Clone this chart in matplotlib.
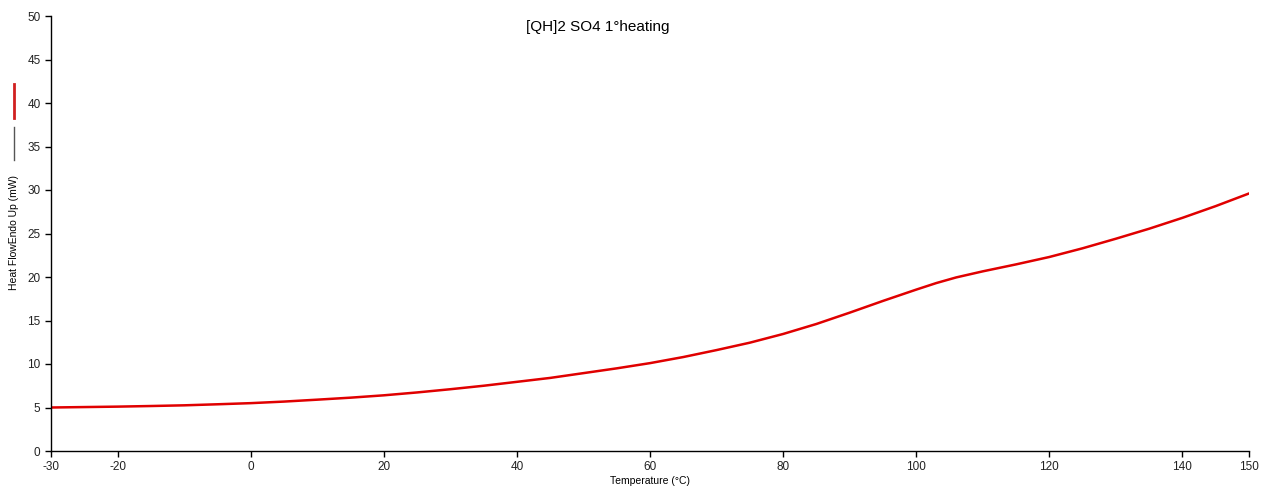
import matplotlib
matplotlib.use("Agg")
import matplotlib.pyplot as plt
from matplotlib.lines import Line2D

# DSC trace (every 5 °C)
temperature = [-30, -25, -20, -15, -10, -5, 0, 5, 10, 15, 20, 25, 30, 35,
               40, 45, 50, 55, 60, 65, 70, 75, 80, 85, 90, 95, 100, 103,
               106, 110, 115, 120, 125, 130, 135, 140, 145, 150]
heat_flow = [5.0, 5.05, 5.1, 5.17, 5.25, 5.37, 5.5, 5.68, 5.9, 6.13, 6.4,
             6.73, 7.1, 7.5, 7.95, 8.4, 8.95, 9.5, 10.1, 10.8, 11.6, 12.45,
             13.45, 14.6, 15.9, 17.25, 18.55, 19.3, 19.95, 20.65, 21.45,
             22.3, 23.3, 24.4, 25.55, 26.8, 28.15, 29.6]

x_ticks = [-30, -20, 0, 20, 40, 60, 80, 100, 120, 140, 150]
y_ticks = [0, 5, 10, 15, 20, 25, 30, 35, 40, 45, 50]

plt.rcParams["font.family"] = ["Liberation Sans", "DejaVu Sans"]
plt.rcParams["axes.unicode_minus"] = False

W, H = 1270, 491
fig = plt.figure(figsize=(W / 100, H / 100), dpi=100)
ax = fig.add_axes([51 / W, 40 / H, 1198 / W, 435 / H])

ax.plot(temperature, heat_flow, color="#e00000", linewidth=1.8,
        solid_joinstyle="round")

ax.set_xlim(-30, 150)
ax.set_ylim(0, 50)
ax.set_xticks(x_ticks)
ax.set_yticks(y_ticks)
ax.tick_params(labelsize=8.5, length=4, width=1, direction="out",
               colors="black", labelcolor="#222222")
for side in ("top", "right"):
    ax.spines[side].set_visible(False)
for side in ("left", "bottom"):
    ax.spines[side].set_linewidth(1)

ax.set_xlabel("Temperature (°C)", fontsize=7.5, labelpad=2)

fig.text(598 / W, 1 - 27 / H, "[QH]2 SO4 1°heating", fontsize=11,
         ha="center", va="center")
fig.text(14 / W, 1 - 233 / H, "Heat FlowEndo Up (mW)", fontsize=7.5,
         rotation=90, ha="center", va="center")

# legend-like markers beside the y label
fig.add_artist(Line2D([14 / W, 14 / W], [1 - 127 / H, 1 - 160 / H],
                      color="#555555", linewidth=1, transform=fig.transFigure))
fig.add_artist(Line2D([14 / W, 14 / W], [1 - 84 / H, 1 - 118 / H],
                      color="#d02020", linewidth=2, transform=fig.transFigure))

fig.savefig("out.png", dpi=100)
